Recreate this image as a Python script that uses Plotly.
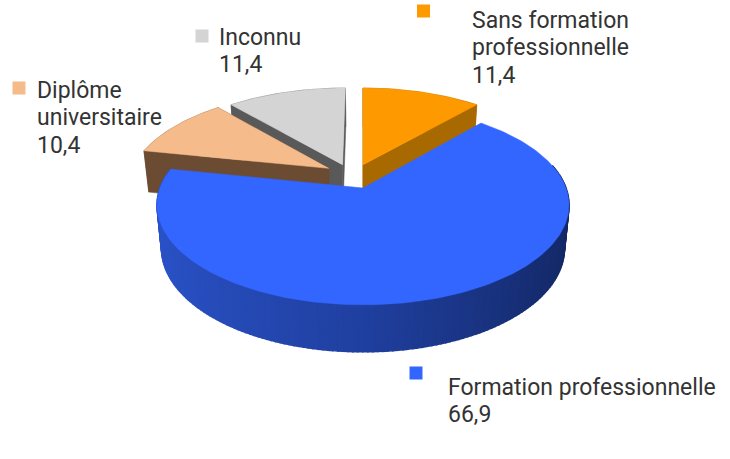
import numpy as np
import plotly.graph_objects as go

categories = ["Sans formation<br>professionnelle", "Formation professionnelle", "Diplôme<br>universitaire", "Inconnu"]
values = [11.4, 66.9, 10.4, 11.4]
value_labels = ["11,4", "66,9", "10,4", "11,4"]
top_colors = ["#ff9900", "#3366ff", "#f5bb8b", "#d4d4d4"]
side_colors = ["#a86a00", None, "#6b4c33", "#595959"]
explode_u = [0.0, 0.0, -0.175, -0.105]
explode_v = [-0.25, 0.0, -0.21, -0.25]
label_xy = [(472, 20), (448, 387), (37, 90), (219, 37)]
marker_xy = [(423.5, 11), (416, 373), (19, 88), (202, 36)]

CX, CY, A, B, K, DEPTH = 363, 188, 203, 97, 0.17, 42.8
BOTTOM_SCALE = 0.978
LINE_STEP = 27.8


def project(u, v, low=False):
    w = 1 - K * v
    x = A * u / w
    y = B * v / w
    if low:
        return CX + x * BOTTOM_SCALE, CY + y + DEPTH / np.sqrt(w)
    return CX + x, CY + y


fig = go.Figure()


def poly(xs, ys, color, lw=0.5):
    fig.add_trace(go.Scatter(x=np.r_[xs, xs[0]], y=np.r_[ys, ys[0]], mode="lines", fill="toself",
                             fillcolor=color, line=dict(color=color, width=lw),
                             hoverinfo="skip", showlegend=False))


def blue_side(t):
    # light at the left of the front, dark at the right
    f = (np.sin(t) + 1) / 2
    stops = np.array([(43, 83, 200), (32, 64, 160), (20, 40, 100)])
    c = np.array([np.interp(f, [0, 0.5, 1], stops[:, i]) for i in range(3)]).astype(int)
    return f"rgb({c[0]},{c[1]},{c[2]})"


edges = np.cumsum([0] + values) / sum(values) * 2 * np.pi
order = [3, 2, 0, 1]
for i in order:
    t = np.linspace(edges[i], edges[i + 1], max(int(values[i] * 3), 8))
    u = np.sin(t) + explode_u[i]
    v = -np.cos(t) + explode_v[i]
    u0, v0 = explode_u[i], explode_v[i]
    if i != 1:
        # radial inner walls and outer wall
        for (ua, va) in [(u[0], v[0]), (u[-1], v[-1])]:
            x1, y1 = project(np.array([u0, ua]), np.array([v0, va]))
            x2, y2 = project(np.array([ua, u0]), np.array([va, v0]), True)
            poly(np.r_[x1, x2], np.r_[y1, y2], side_colors[i])
        x1, y1 = project(u, v)
        x2, y2 = project(u[::-1], v[::-1], True)
        poly(np.r_[x1, x2], np.r_[y1, y2], side_colors[i])
    else:
        for a, b, tm in zip(t[:-1], t[1:], (t[:-1] + t[1:]) / 2):
            if -np.cos(tm) < -0.25:
                continue
            ua, ub = np.sin([a, b])
            va, vb = -np.cos([a, b])
            x1, y1 = project(np.array([ua, ub]), np.array([va, vb]))
            x2, y2 = project(np.array([ub, ua]), np.array([vb, va]), True)
            poly(np.r_[x1, x2], np.r_[y1, y2], blue_side(tm), 1.5)
    x, y = project(np.r_[u0, u], np.r_[v0, v])
    poly(x, y, top_colors[i])

for i, name in enumerate(categories):
    fig.add_trace(go.Scatter(x=[marker_xy[i][0]], y=[marker_xy[i][1]], mode="markers",
                             marker=dict(symbol="square", size=13, color=top_colors[i]),
                             hoverinfo="skip", showlegend=False))
    lines = name.split("<br>") + [value_labels[i]]
    for j, line in enumerate(lines):
        fig.add_annotation(x=label_xy[i][0], y=label_xy[i][1] + j * LINE_STEP, xref="x", yref="y",
                           xanchor="left", yanchor="middle", xshift=-2,
                           text=line, showarrow=False, align="left",
                           font=dict(family="Roboto", size=23, color="#333333"))

fig.update_layout(width=730, height=459, margin=dict(l=0, r=0, t=0, b=0),
                  paper_bgcolor="white", plot_bgcolor="white",
                  xaxis=dict(range=[0, 730], visible=False, fixedrange=True),
                  yaxis=dict(range=[459, 0], visible=False, fixedrange=True))
fig.write_html("out.html", config={"displayModeBar": False},
               post_script="document.body.style.margin='0';")
